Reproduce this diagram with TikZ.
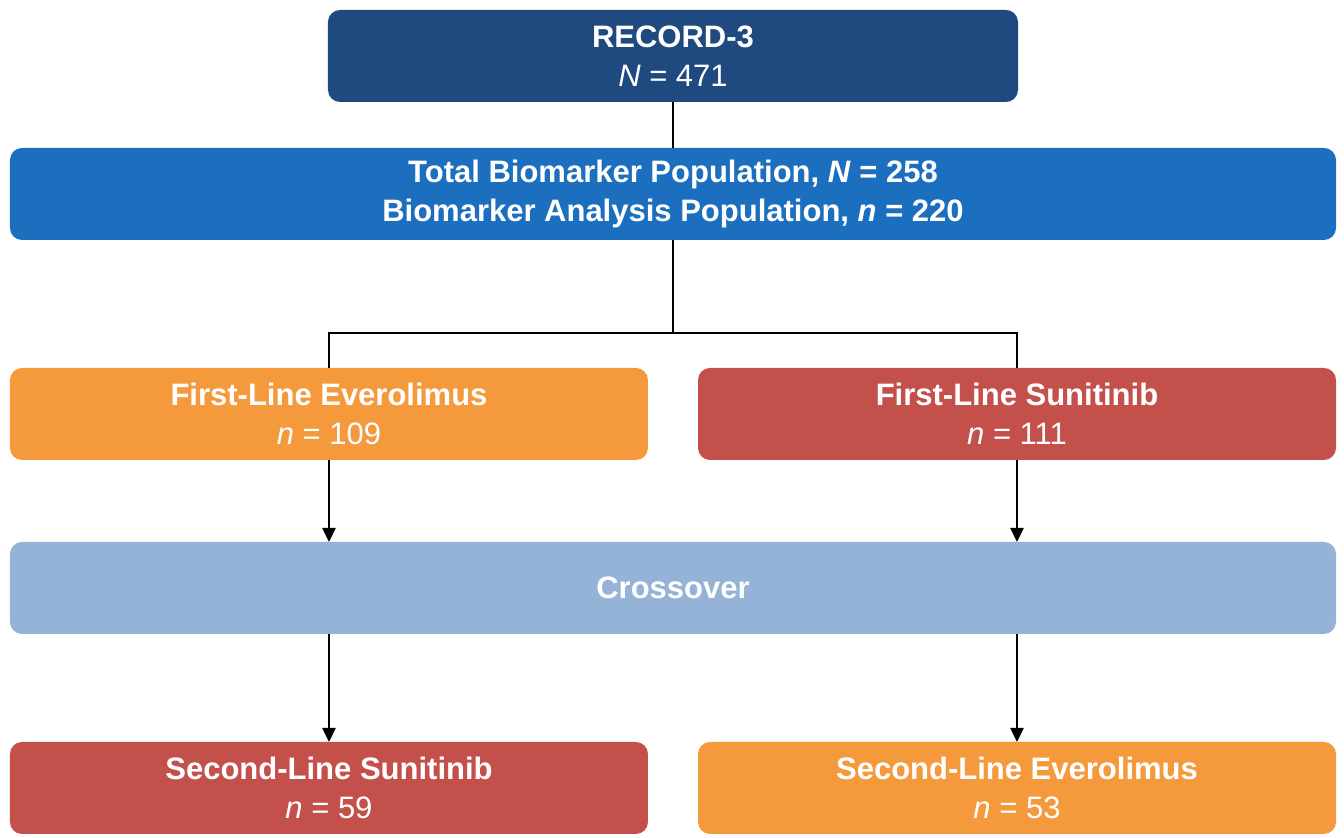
\documentclass[tikz,border=0pt]{standalone}
\usepackage{fontspec}
\setmainfont{Liberation Sans}
\usepackage{tikz}
\usetikzlibrary{arrows.meta,positioning,calc}
\definecolor{navyblue}{HTML}{1F4A80}
\definecolor{midblue}{HTML}{1C6EBE}
\definecolor{paleblue}{HTML}{95B3D7}
\definecolor{armorange}{HTML}{F59A3C}
\definecolor{armred}{HTML}{C4504C}

\begin{document}
\begin{tikzpicture}[font=\fontsize{15.5}{19.5}\selectfont,
  box/.style={rounded corners=6pt, text=white, align=center, minimum height=46pt, inner sep=2pt, outer sep=0pt},
  link/.style={line width=1.2pt, black},
  arrow/.style={link, -{Triangle[length=7pt, width=6.5pt]}}]
  \node[box, fill=navyblue, minimum width=345pt] (record) {\textbf{RECORD-3}\\\textit{N} = 471};
  \node[box, fill=midblue, minimum width=663pt, below=23pt of record] (total) {
    \textbf{Total Biomarker Population, \textit{N} = 258}\\
    \textbf{Biomarker Analysis Population, \textit{n} = 220}
  };
  \node[box, fill=armorange, minimum width=319pt, below right=64pt and 0pt of total.south west] (fl_everolimus) {\textbf{First-Line Everolimus}\\\textit{n} = 109};
  \node[box, fill=armred, minimum width=319pt, below left=64pt and 0pt of total.south east] (fl_sunitinib) {\textbf{First-Line Sunitinib}\\\textit{n} = 111};
  \node[box, fill=paleblue, minimum width=663pt, below right=41pt and 0pt of fl_everolimus.south west] (crossover) {\textbf{Crossover}};
  \node[box, fill=armred, minimum width=319pt, below right=54pt and 0pt of crossover.south west] (sl_sunitinib) {\textbf{Second-Line Sunitinib}\\\textit{n} = 59};
  \node[box, fill=armorange, minimum width=319pt, below left=54pt and 0pt of crossover.south east] (sl_everolimus) {\textbf{Second-Line Everolimus}\\\textit{n} = 53};

  % margins of the page
  \useasboundingbox ($(total.west |- record.north)+(-5pt,5pt)$) rectangle ($(sl_everolimus.south east)+(4pt,-2pt)$);

  \coordinate (split) at ($(total.south)+(0,-46.5pt)$);
  \draw[link] (record) -- (total);
  \draw[link] (total.south) -- (split);
  \draw[link] (split) -| (fl_everolimus.north);
  \draw[link] (split) -| (fl_sunitinib.north);
  \draw[arrow] (fl_everolimus.south) -- (fl_everolimus.south |- crossover.north);
  \draw[arrow] (fl_sunitinib.south) -- (fl_sunitinib.south |- crossover.north);
  \draw[arrow] (sl_sunitinib.north |- crossover.south) -- (sl_sunitinib.north);
  \draw[arrow] (sl_everolimus.north |- crossover.south) -- (sl_everolimus.north);
\end{tikzpicture}
\end{document}
